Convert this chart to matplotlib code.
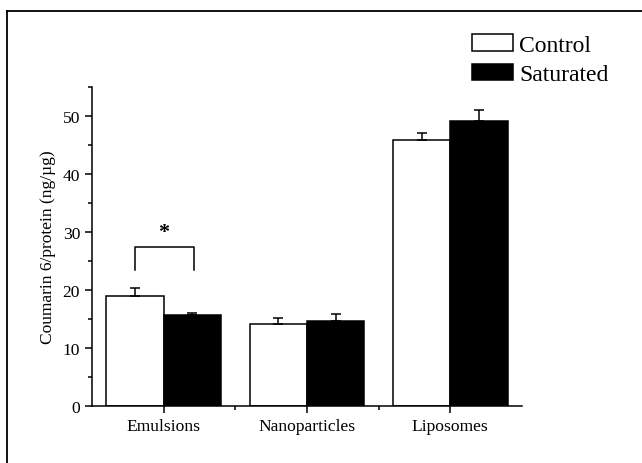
import matplotlib
matplotlib.use("Agg")
import matplotlib.pyplot as plt
import numpy as np
from matplotlib.lines import Line2D
from matplotlib.ticker import MultipleLocator, FixedLocator

plt.rcParams['font.family'] = ['Liberation Serif', 'DejaVu Serif']

categories = ["Emulsions", "Nanoparticles", "Liposomes"]
control = [19.0, 14.1, 45.9]
control_err = [1.3, 1.1, 1.2]
saturated = [15.7, 14.7, 49.1]
saturated_err = [0.3, 1.1, 1.9]
series_names = ["Control", "Saturated"]

fig = plt.figure(figsize=(6.42, 4.64), dpi=100)
ax = fig.add_axes([92/642, 1-407/464, (522-92)/642, (407-88)/464])

x = np.arange(len(categories))
w = 0.4
lw = 1.1
ax.bar(x - w/2, control, w, color='white', edgecolor='black', linewidth=lw, label=series_names[0], zorder=2)
ax.bar(x + w/2, saturated, w, color='black', edgecolor='black', linewidth=lw, label=series_names[1], zorder=2)
ax.errorbar(x - w/2, control, yerr=[np.zeros(3), control_err], fmt='none', ecolor='black',
            elinewidth=1.1, capsize=3.5, capthick=1.1, zorder=3)
ax.errorbar(x + w/2, saturated, yerr=[np.zeros(3), saturated_err], fmt='none', ecolor='black',
            elinewidth=1.1, capsize=3.5, capthick=1.1, zorder=3)

# significance bracket
ax.plot([-0.2, -0.2, 0.21, 0.21], [23.5, 27.5, 27.5, 23.5], color='black', lw=1.1, zorder=3)
ax.text(0, 30.0, "*", ha='center', va='center', fontsize=16, fontweight='bold')

ax.set_xlim(-0.5, 2.5)
ax.set_ylim(0, 55)
ax.set_xticks(x)
ax.set_xticklabels(categories, fontsize=12.6)
ax.xaxis.set_minor_locator(FixedLocator([0.5, 1.5]))
ax.yaxis.set_major_locator(MultipleLocator(10))
ax.yaxis.set_minor_locator(MultipleLocator(5))
ax.tick_params(axis='both', which='major', direction='out', length=5, width=1.1, labelsize=12.6)
ax.tick_params(axis='both', which='minor', direction='out', length=3, width=1.1)
ax.set_ylabel("Coumarin 6/protein (ng/µg)", fontsize=12.5, labelpad=5)
for s in ['top', 'right']:
    ax.spines[s].set_visible(False)
for s in ['left', 'bottom']:
    ax.spines[s].set_linewidth(1.1)

leg = ax.legend(loc='upper left', bbox_to_anchor=(472/642, 1-35/464), bbox_transform=fig.transFigure,
                frameon=False, fontsize=17, handlelength=1.75, handleheight=0.7,
                handletextpad=0.25, labelspacing=0.35, borderpad=0, borderaxespad=0)

# outer frame lines (top and left visible)
fig.add_artist(Line2D([7/642, 1.0], [1-12/464, 1-12/464], transform=fig.transFigure, color='black', lw=1.3))
fig.add_artist(Line2D([7/642, 7/642], [0, 1-12/464], transform=fig.transFigure, color='black', lw=1.3))

fig.savefig("out.png", dpi=100)
